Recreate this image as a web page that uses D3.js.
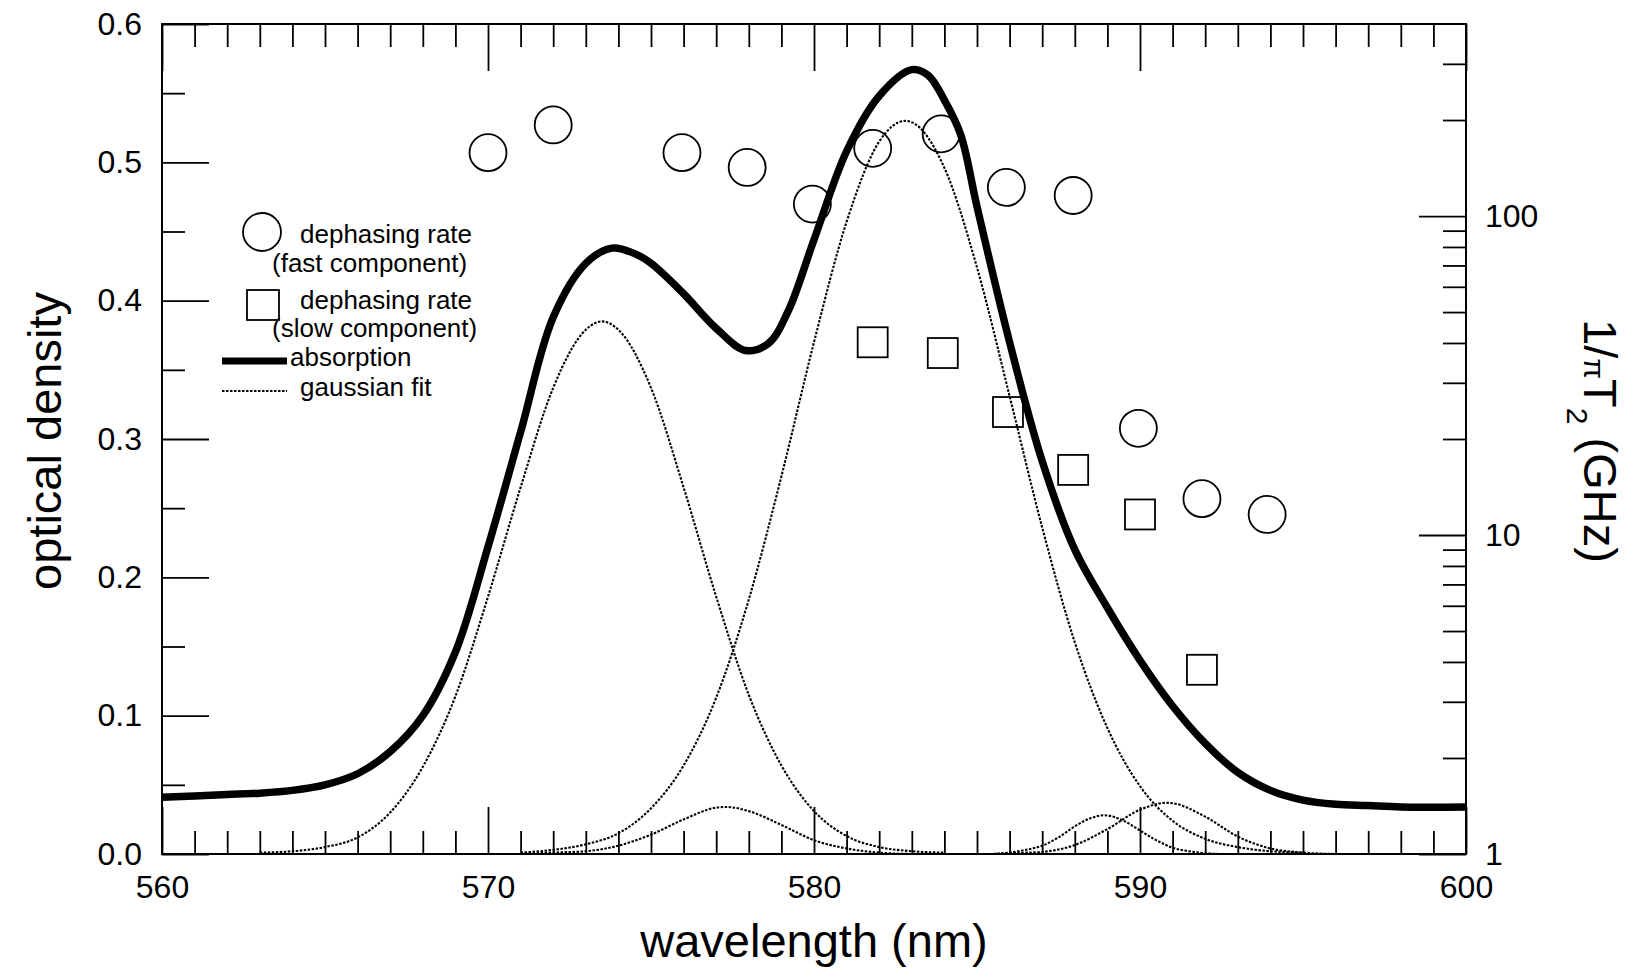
<!DOCTYPE html>
<html>
<head>
  <meta charset="utf-8">
  <title>Optical density and dephasing rate</title>
  <style>
    body { margin: 0; background: white; }
    .frame { fill: none; stroke: black; stroke-width: 2px; }
    .axis line { stroke: black; stroke-width: 1.8px; }
    .axis path { display: none; }
    .axis text { fill: black; }
    .absorption { fill: none; stroke: black; stroke-width: 7.5px; }
    .gauss { fill: none; stroke: black; stroke-width: 2.1px; stroke-dasharray: 2.5 1.5; }
    .marker { fill: none; stroke: black; stroke-width: 1.8px; }
    text { font-family: "Liberation Sans", Arial, Helvetica, sans-serif; }
  </style>
</head>
<body>
  <div id="chart"></div>

  <script src="https://d3js.org/d3.v7.min.js"></script>
  <script>
    // absorption spectrum (optical density, left axis)
    const absWl = [560, 561, 562, 563, 564, 565, 566, 567, 568, 569, 570, 571, 572, 573, 573.8, 574.5, 575, 576, 577, 577.9,
                   578.6, 579.2, 580, 581, 582, 583, 583.5, 584, 584.5, 585, 586, 587, 588, 589, 590, 591, 592, 593, 594, 595,
                   596, 597, 598, 600];
    const absOd = [0.041, 0.042, 0.043, 0.044, 0.046, 0.050, 0.058, 0.074, 0.100, 0.146, 0.222, 0.305, 0.388, 0.427, 0.438, 0.434, 0.427, 0.405, 0.380, 0.364,
                   0.369, 0.392, 0.444, 0.508, 0.548, 0.567, 0.563, 0.545, 0.520, 0.468, 0.370, 0.284, 0.220, 0.178, 0.140, 0.107, 0.080, 0.059, 0.046, 0.039,
                   0.036, 0.035, 0.034, 0.034];

    // gaussian fit components (left axis)
    const g1Wl = [563, 564, 565, 566, 567, 568, 569, 570, 571, 572, 573, 573.5, 574, 575, 576, 577, 578, 579, 580, 581, 582, 583, 584];
    const g1Od = [0.001, 0.002, 0.005, 0.012, 0.030, 0.063, 0.114, 0.186, 0.265, 0.337, 0.379, 0.385, 0.379, 0.337, 0.265, 0.186, 0.115, 0.064, 0.031, 0.013, 0.005, 0.002, 0.001];

    const g2Wl = [571, 572, 573, 574, 575, 576, 577, 578, 579, 580, 581, 582, 582.8, 583, 584, 585, 586, 587, 588, 589, 590, 591, 592, 593, 594, 595];
    const g2Od = [0.001, 0.003, 0.007, 0.015, 0.033, 0.064, 0.113, 0.184, 0.273, 0.370, 0.457, 0.515, 0.530, 0.529, 0.496, 0.424, 0.331, 0.236, 0.153, 0.091, 0.049, 0.024, 0.011, 0.005, 0.002, 0.001];

    const g3Wl = [571, 572, 573, 574, 575, 576, 577, 577.3, 578, 579, 580, 581, 582, 583];
    const g3Od = [0.000, 0.001, 0.002, 0.006, 0.014, 0.025, 0.0335, 0.034, 0.031, 0.021, 0.010, 0.004, 0.001, 0.000];

    const g4Wl = [585.5, 586, 586.5, 587, 587.5, 588, 588.5, 588.9, 589.5, 590, 590.5, 591, 591.5, 592, 592.5];
    const g4Od = [0.000, 0.001, 0.003, 0.006, 0.012, 0.020, 0.026, 0.028, 0.024, 0.017, 0.010, 0.0045, 0.002, 0.0005, 0.000];

    const g5Wl = [585.5, 586.5, 587, 588, 589, 590, 590.8, 591, 592, 593, 594, 595, 596];
    const g5Od = [0.000, 0.001, 0.0015, 0.0065, 0.018, 0.032, 0.037, 0.0367, 0.027, 0.0126, 0.004, 0.001, 0.000];

    // dephasing rates 1/(pi T2) in GHz (right log axis)
    const fastWl = [570, 572, 575.95, 577.95, 579.95, 581.8, 583.9, 585.9, 587.95, 589.95, 591.9, 593.9];
    const fastRate = [158, 193, 158, 142, 109, 163, 181, 123, 116, 21.6, 13.0, 11.6];
    const slowWl = [581.8, 583.95, 585.95, 587.95, 590.0, 591.9];
    const slowRate = [40.2, 37.2, 24.3, 16.0, 11.6, 3.78];

    // tick values
    const xMajor = [560, 570, 580, 590, 600];
    const xMinor = d3.range(561, 600).filter(v => v % 10 !== 0);
    const yMajor = [0, 0.1, 0.2, 0.3, 0.4, 0.5, 0.6];
    const yMinor = [0.05, 0.15, 0.25, 0.35, 0.45, 0.55];
    const rMajor = [1, 10, 100];
    const rMinor = [2, 3, 4, 5, 6, 7, 8, 9, 20, 30, 40, 50, 60, 70, 80, 90, 200, 300];

    const width = 1627, height = 977;
    const plotLeft = 162, plotRight = 1466, plotTop = 24, plotBottom = 854;
    const majorLen = 47, minorLen = 23;
    const tickFont = 32, titleFont = 47, legendFont = 26;

    const svg = d3.select("#chart")
      .append("svg")
      .attr("width", width)
      .attr("height", height)
      .attr("viewBox", `0 0 ${width} ${height}`);

    const xScale = d3.scaleLinear().domain([560, 600]).range([plotLeft, plotRight]);
    const yScale = d3.scaleLinear().domain([0, 0.6]).range([plotBottom, plotTop]);
    const rScale = d3.scaleLog().domain([1, 400]).range([plotBottom, plotTop]);

    function styleAxis(g) {
      g.attr("class", "axis")
        .attr("font-size", tickFont)
        .attr("font-family", "\"Liberation Sans\", Arial, Helvetica, sans-serif");
    }

    // bottom axis
    svg.append("g")
      .attr("transform", `translate(0,${plotBottom})`)
      .call(d3.axisBottom(xScale).tickValues(xMajor).tickSizeInner(-majorLen).tickSizeOuter(0).tickPadding(21).tickFormat(d3.format("d")))
      .call(styleAxis);
    svg.append("g")
      .attr("transform", `translate(0,${plotBottom})`)
      .call(d3.axisBottom(xScale).tickValues(xMinor).tickSizeInner(-minorLen).tickSizeOuter(0).tickFormat(""))
      .call(styleAxis);

    // top axis
    svg.append("g")
      .attr("transform", `translate(0,${plotTop})`)
      .call(d3.axisTop(xScale).tickValues(xMajor).tickSizeInner(-majorLen).tickSizeOuter(0).tickFormat(""))
      .call(styleAxis);
    svg.append("g")
      .attr("transform", `translate(0,${plotTop})`)
      .call(d3.axisTop(xScale).tickValues(xMinor).tickSizeInner(-minorLen).tickSizeOuter(0).tickFormat(""))
      .call(styleAxis);

    // left axis
    svg.append("g")
      .attr("transform", `translate(${plotLeft},0)`)
      .call(d3.axisLeft(yScale).tickValues(yMajor).tickSizeInner(-majorLen).tickSizeOuter(0).tickPadding(20).tickFormat(d3.format(".1f")))
      .call(styleAxis);
    svg.append("g")
      .attr("transform", `translate(${plotLeft},0)`)
      .call(d3.axisLeft(yScale).tickValues(yMinor).tickSizeInner(-minorLen).tickSizeOuter(0).tickFormat(""))
      .call(styleAxis);

    // right axis (log)
    svg.append("g")
      .attr("transform", `translate(${plotRight},0)`)
      .call(d3.axisRight(rScale).tickValues(rMajor).tickSizeInner(-majorLen).tickSizeOuter(0).tickPadding(19).tickFormat(d3.format("d")))
      .call(styleAxis);
    svg.append("g")
      .attr("transform", `translate(${plotRight},0)`)
      .call(d3.axisRight(rScale).tickValues(rMinor).tickSizeInner(-minorLen).tickSizeOuter(0).tickFormat(""))
      .call(styleAxis);

    // frame
    svg.append("rect")
      .attr("class", "frame")
      .attr("x", plotLeft).attr("y", plotTop)
      .attr("width", plotRight - plotLeft).attr("height", plotBottom - plotTop);

    // curves
    const gaussLine = d3.line()
      .x(d => xScale(d[0]))
      .y(d => yScale(d[1]))
      .curve(d3.curveMonotoneX);

    const absLine = d3.line()
      .x(d => xScale(d[0]))
      .y(d => yScale(d[1]))
      .curve(d3.curveCatmullRom.alpha(0.5));

    [[g1Wl, g1Od], [g2Wl, g2Od], [g3Wl, g3Od], [g4Wl, g4Od], [g5Wl, g5Od]].forEach(([wl, od]) => {
      svg.append("path")
        .attr("class", "gauss")
        .attr("d", gaussLine(d3.zip(wl, od)));
    });

    svg.append("path")
      .attr("class", "absorption")
      .attr("d", absLine(d3.zip(absWl, absOd)));

    // dephasing rate markers
    const circleR = 18.5, squareSide = 30;
    svg.selectAll(".fast")
      .data(d3.zip(fastWl, fastRate))
      .enter()
      .append("circle")
      .attr("class", "marker fast")
      .attr("cx", d => xScale(d[0]))
      .attr("cy", d => rScale(d[1]))
      .attr("r", circleR);

    svg.selectAll(".slow")
      .data(d3.zip(slowWl, slowRate))
      .enter()
      .append("rect")
      .attr("class", "marker slow")
      .attr("x", d => xScale(d[0]) - squareSide / 2)
      .attr("y", d => rScale(d[1]) - squareSide / 2)
      .attr("width", squareSide)
      .attr("height", squareSide);

    // legend
    const legend = svg.append("g").attr("font-size", legendFont);
    legend.append("circle").attr("class", "marker").attr("cx", 262).attr("cy", 232).attr("r", 19);
    legend.append("text").attr("x", 300).attr("y", 243).text("dephasing rate");
    legend.append("text").attr("x", 272).attr("y", 272).text("(fast component)");
    legend.append("rect").attr("class", "marker").attr("x", 247).attr("y", 290).attr("width", 32).attr("height", 30);
    legend.append("text").attr("x", 300).attr("y", 309).text("dephasing rate");
    legend.append("text").attr("x", 272).attr("y", 337).text("(slow component)");
    legend.append("line").attr("x1", 222).attr("x2", 287).attr("y1", 361).attr("y2", 361)
      .attr("stroke", "black").attr("stroke-width", 7);
    legend.append("text").attr("x", 290).attr("y", 366).text("absorption");
    legend.append("line").attr("class", "gauss").attr("x1", 222).attr("x2", 287).attr("y1", 391).attr("y2", 391);
    legend.append("text").attr("x", 300).attr("y", 396).text("gaussian fit");

    // axis titles
    svg.append("text")
      .attr("x", (plotLeft + plotRight) / 2)
      .attr("y", 957)
      .attr("text-anchor", "middle")
      .attr("font-size", titleFont)
      .text("wavelength (nm)");

    svg.append("text")
      .attr("transform", `translate(61,${(plotTop + plotBottom) / 2 + 2}) rotate(-90)`)
      .attr("text-anchor", "middle")
      .attr("font-size", titleFont)
      .text("optical density");

    const rTitle = svg.append("text")
      .attr("transform", `translate(1584,${(plotTop + plotBottom) / 2 + 2}) rotate(90)`)
      .attr("text-anchor", "middle")
      .attr("font-size", titleFont);
    rTitle.append("tspan").text("1/");
    rTitle.append("tspan").attr("font-size", 30).text("\u03c0");
    rTitle.append("tspan").text("T");
    rTitle.append("tspan").attr("font-size", 30).attr("dy", 17).text("2");
    rTitle.append("tspan").attr("dy", -17).text(" (GHz)");
  </script>
</body>
</html>
